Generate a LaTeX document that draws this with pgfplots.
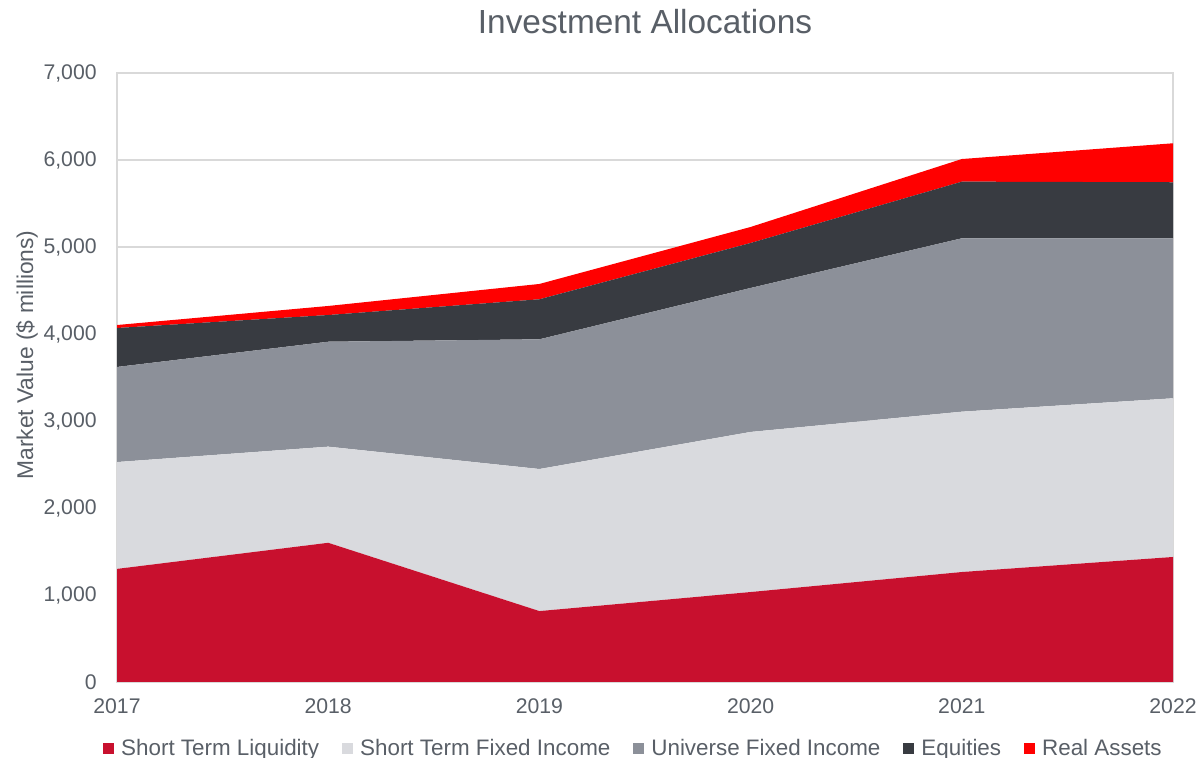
\documentclass[border=0pt]{standalone}
\usepackage{pgfplots}
\pgfplotsset{compat=1.18}
\usepackage{fontspec}
\setmainfont{Liberation Sans}
\definecolor{txt}{HTML}{595F67}
\definecolor{cSL}{HTML}{C8102E}
\definecolor{cSTFI}{HTML}{D9DADE}
\definecolor{cUFI}{HTML}{8C9099}
\definecolor{cEQ}{HTML}{383B41}
\definecolor{cRA}{HTML}{FF0000}
\definecolor{gridc}{HTML}{D9D9D9}
\begin{document}
\begin{tikzpicture}
\useasboundingbox (0,0) rectangle (599.5pt,379pt);
\begin{axis}[
  at={(58.5pt,38pt)}, anchor=south west,
  scale only axis, width=528pt, height=304.5pt,
  xmin=2017, xmax=2022, ymin=0, ymax=7000,
  xtick={2017,2018,2019,2020,2021,2022},
  xticklabels={2017,2018,2019,2020,2021,2022},
  ytick={0,1000,2000,3000,4000,5000,6000,7000},
  yticklabels={0,{1,000},{2,000},{3,000},{4,000},{5,000},{6,000},{7,000}},
  major tick length=0pt,
  ymajorgrids, grid style={gridc, line width=0.6pt},
  axis line style={gridc, line width=0.6pt},
  stack plots=y,
  tick label style={font=\fontsize{10.6}{12}\selectfont, text=txt},
  yticklabel style={inner sep=0pt, xshift=-10pt},
  xticklabel style={inner sep=0pt, yshift=-8pt},
  every axis title/.style={at={(axis description cs:0.5,1)}, anchor=center, yshift=25.5pt, font=\fontsize{16.7}{19}\selectfont, text=txt},
  title={Investment Allocations},
  every axis y label/.style={at={(axis description cs:-0.0852,0.537)}, anchor=center, rotate=90, font=\fontsize{11.4}{13}\selectfont, text=txt},
  ylabel={Market Value (\$ millions)},
  legend columns=5,
  legend cell align=left,
  legend style={at={(axis description cs:0.49,-0.11)}, anchor=center, draw=none, fill=none,
    font=\fontsize{11.2}{13}\selectfont, text=txt, column sep=0pt,
    /tikz/every even column/.append style={column sep=9.5pt}},
  legend image code/.code={\fill[#1] (0pt,-2.75pt) rectangle (5.5pt,2.75pt); \path (7pt,0pt);},
]
\addplot[fill=cSL, draw=none] coordinates {(2017,1300) (2018,1600) (2019,815) (2020,1034) (2021,1264) (2022,1437)} \closedcycle;
\addlegendentry{Short Term Liquidity}
\addplot[fill=cSTFI, draw=none] coordinates {(2017,1228) (2018,1105) (2019,1633) (2020,1840) (2021,1843) (2022,1824)} \closedcycle;
\addlegendentry{Short Term Fixed Income}
\addplot[fill=cUFI, draw=none] coordinates {(2017,1093) (2018,1206) (2019,1491) (2020,1655) (2021,1993) (2022,1839)} \closedcycle;
\addlegendentry{Universe Fixed Income}
\addplot[fill=cEQ, draw=none] coordinates {(2017,448) (2018,307) (2019,460) (2020,517) (2021,651) (2022,644)} \closedcycle;
\addlegendentry{Equities}
\addplot[fill=cRA, draw=none] coordinates {(2017,34) (2018,104) (2019,176) (2020,184) (2021,260) (2022,448)} \closedcycle;
\addlegendentry{Real Assets}
\end{axis}
\end{tikzpicture}
\end{document}
